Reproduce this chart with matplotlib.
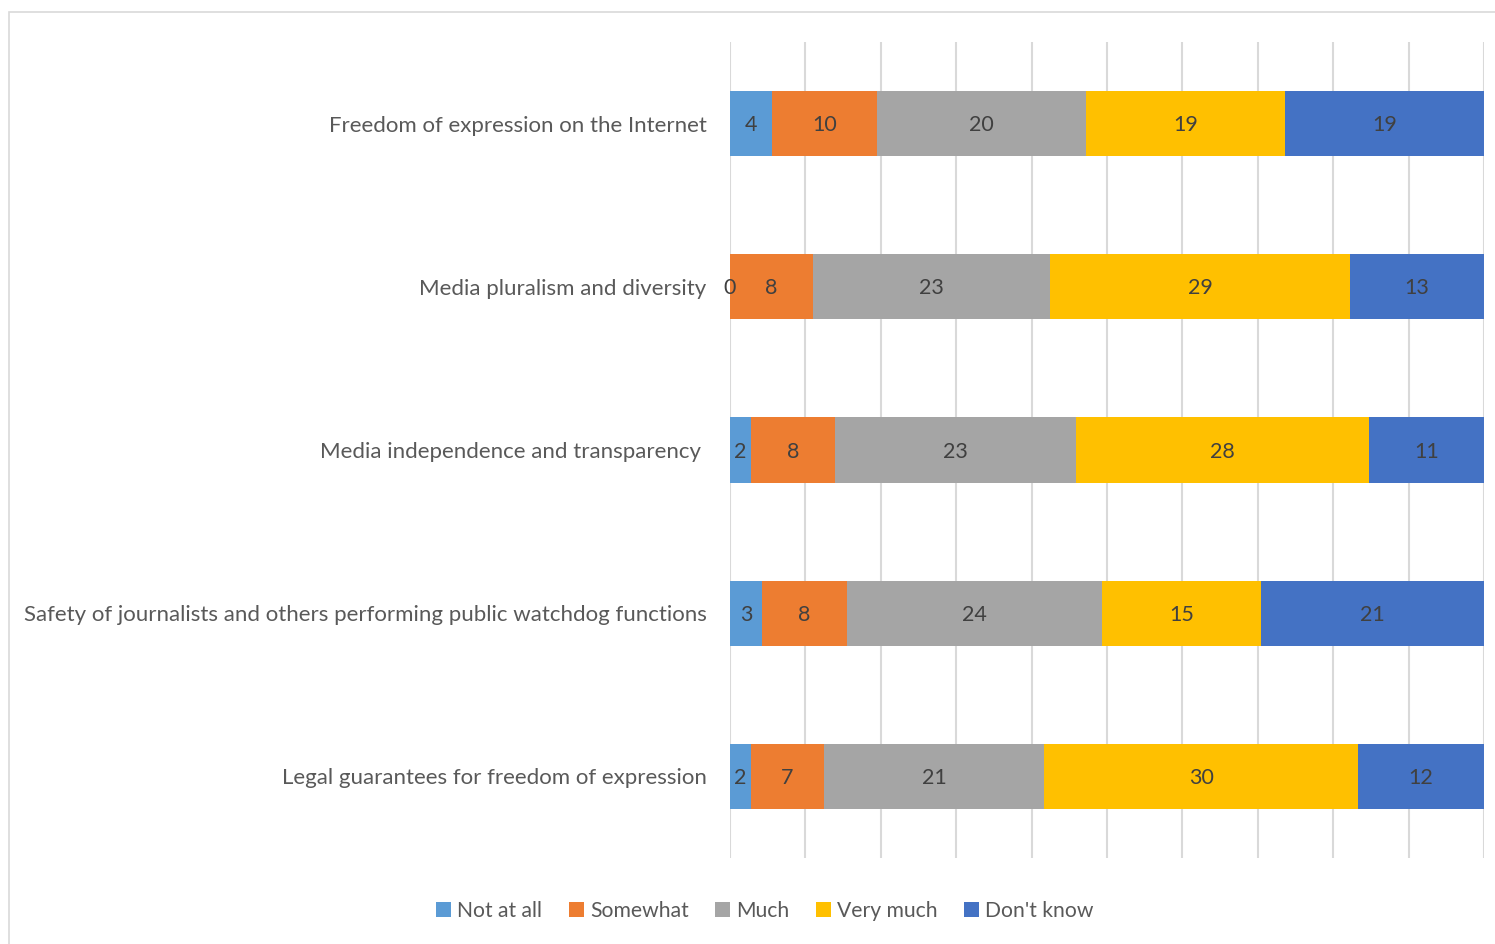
import matplotlib
matplotlib.use("Agg")
import matplotlib.pyplot as plt
from matplotlib.patches import Rectangle
import numpy as np

plt.rcParams["font.family"] = ["Lato", "DejaVu Sans"]

categories = ["Freedom of expression on the Internet",
              "Media pluralism and diversity",
              "Media independence and transparency ",
              "Safety of journalists and others performing public watchdog functions",
              "Legal guarantees for freedom of expression"]
series = ["Not at all", "Somewhat", "Much", "Very much", "Don't know"]
not_at_all = [4, 0, 2, 3, 2]
somewhat = [10, 8, 8, 8, 7]
much = [20, 23, 23, 24, 21]
very_much = [19, 29, 28, 15, 30]
dont_know = [19, 13, 11, 21, 12]
colors = ["#5B9BD5", "#ED7D31", "#A5A5A5", "#FFC000", "#4472C4"]

counts = np.array([not_at_all, somewhat, much, very_much, dont_know], dtype=float)
totals = counts.sum(axis=0)
shares = counts / totals * 100

fig = plt.figure(figsize=(14.95, 9.44), dpi=100)
# chart area border
fig.patches.append(Rectangle((9 / 1495, -0.05), 1.1, 1 - 12 / 944 + 0.05,
                             transform=fig.transFigure, fill=False,
                             edgecolor="#d9d9d9", linewidth=1.2))
ax = fig.add_axes([730 / 1495, 1 - 858 / 944, 754 / 1495, 816 / 944])

y = np.arange(len(categories))
left = np.zeros(len(categories))
for i, name in enumerate(series):
    bars = ax.barh(y, shares[i], left=left, height=0.4, color=colors[i],
                   label=name, zorder=3)
    for j, b in enumerate(bars):
        cx = left[j] + shares[i][j] / 2
        ax.text(cx, y[j] + 0.01, "{:d}".format(int(counts[i][j])), ha="center",
                va="center", fontsize=15.5, color="#404040", zorder=4)
    left += shares[i]

ax.set_xlim(0, 100)
ax.set_ylim(len(categories) - 0.5, -0.5)
ax.set_xticks(np.arange(0, 101, 10))
ax.set_xticklabels([])
ax.set_yticks(y)
ax.set_yticklabels(categories, fontsize=16, color="#595959")
ax.tick_params(length=0, pad=17)
ax.grid(axis="x", color="#d9d9d9", linewidth=1.5, zorder=0)
for s in ax.spines.values():
    s.set_visible(False)

leg = fig.legend(loc="center", bbox_to_anchor=(765 / 1495, 1 - 911 / 944),
                 ncol=5, frameon=False, fontsize=15.2, handlelength=0.7,
                 handleheight=0.7, handletextpad=0.3, columnspacing=1.25)
for t in leg.get_texts():
    t.set_color("#595959")

plt.savefig("out.png", dpi=100)
